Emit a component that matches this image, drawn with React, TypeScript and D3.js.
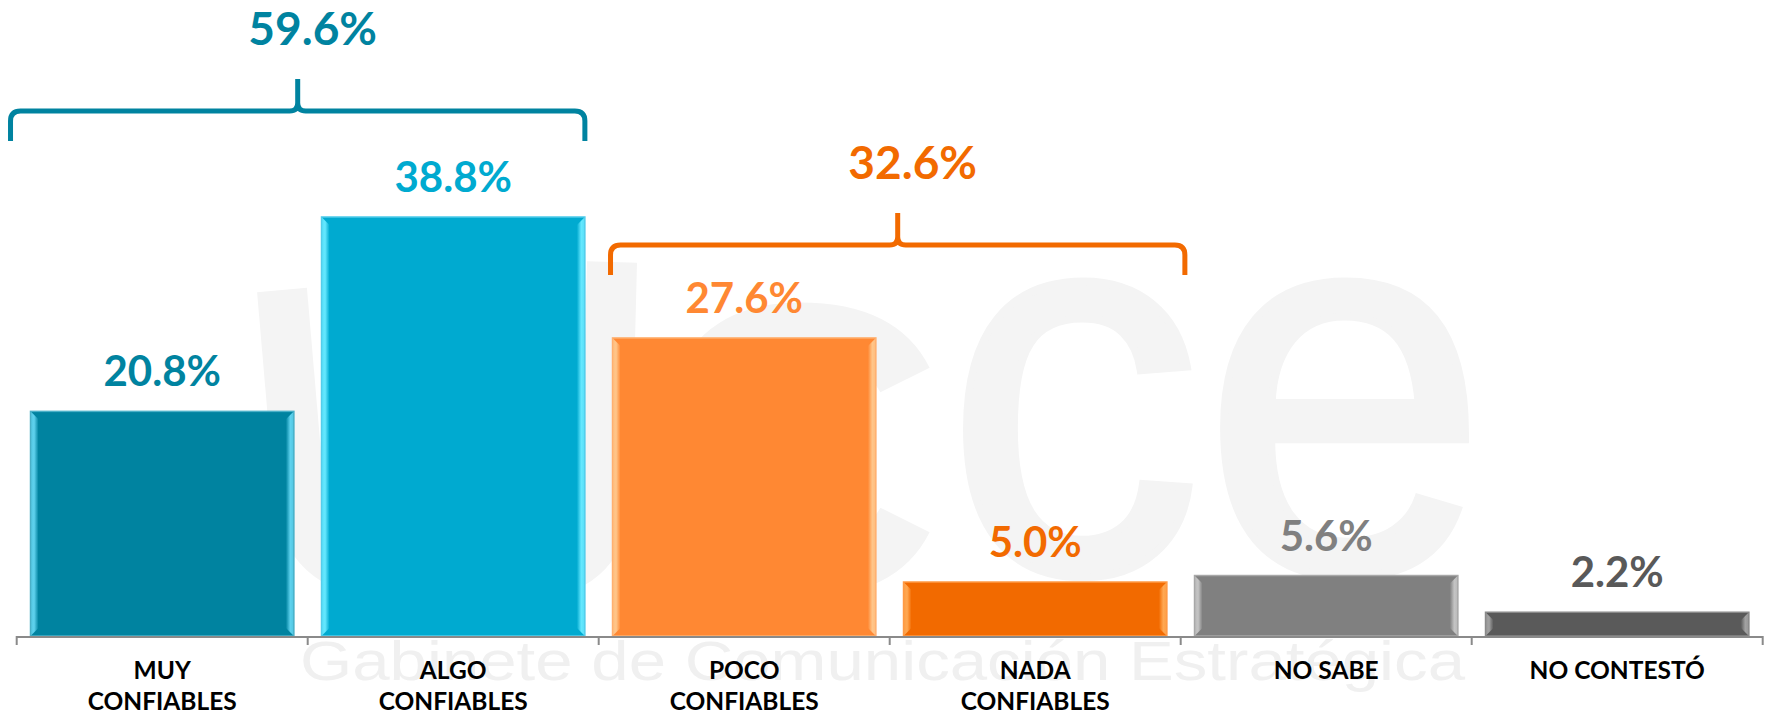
import React, { useEffect } from "react";
import * as d3 from "d3";

// ---------- data ----------
const categories = ["MUY CONFIABLES", "ALGO CONFIABLES", "POCO CONFIABLES", "NADA CONFIABLES", "NO SABE", "NO CONTESTÓ"];
const categoryLines = [["MUY", "CONFIABLES"], ["ALGO", "CONFIABLES"], ["POCO", "CONFIABLES"], ["NADA", "CONFIABLES"], ["NO SABE"], ["NO CONTESTÓ"]];
const values = [20.8, 38.8, 27.6, 5.0, 5.6, 2.2];
const valueLabels = ["20.8%", "38.8%", "27.6%", "5.0%", "5.6%", "2.2%"];
const groupFrom = [0, 2];
const groupTo = [1, 3];
const groupLabels = ["59.6%", "32.6%"];

// ---------- styles ----------
const barColors = ["#0083A0", "#00AAD0", "#FF8833", "#F26A00", "#808080", "#5A5A5A"];
const bevelColors = ["#5FD2EE", "#66E8FF", "#FFC68A", "#FFA852", "#C4C4C4", "#A2A2A2"];
const edgeColors = ["#4AB0C8", "#55CDEB", "#FFB070", "#FF9A45", "#A8A8A8", "#8A8A8A"];
const labelColors = ["#0083A0", "#00AAD0", "#FF8833", "#F26A00", "#808080", "#595959"];
const groupColors = ["#0083A0", "#F26A00"];
const braceShift = [-8, 10];
const braceRise = [106, 93];

const W = 1772;
const H = 716;
const FONT = "Lato, 'Open Sans', 'DejaVu Sans', sans-serif";
const WM = "#f4f4f4";

export default function App() {
  useEffect(() => {
    document.body.style.margin = "0";
  }, []);

  const x = d3
    .scaleBand<string>()
    .domain(categories)
    .range([16.7, 1762.7])
    .paddingInner(0.095)
    .paddingOuter(0.0475);
  const y = d3.scaleLinear().domain([0, 45]).range([636, 150]);
  const bw = x.bandwidth();
  const step = x.step();
  const r0 = x.range()[0];
  const boundaries = d3.range(categories.length + 1).map((i) => r0 + i * step);
  const b = 8;

  const bars = categories.map((c, i) => {
    const x0 = x(c) as number;
    const x1 = x0 + bw;
    const y0 = y(values[i]);
    const y1 = y(0);
    const bb = Math.min(b, (y1 - y0) / 2);
    return (
      <g key={c}>
        <rect x={x0} y={y0} width={bw} height={y1 - y0} fill={barColors[i]} />
        <polygon
          points={`${x0},${y0} ${x0 + b},${y0 + bb} ${x0 + b},${y1 - bb} ${x0},${y1}`}
          fill={`url(#bevL${i})`}
        />
        <polygon
          points={`${x1},${y0} ${x1 - b},${y0 + bb} ${x1 - b},${y1 - bb} ${x1},${y1}`}
          fill={`url(#bevR${i})`}
        />
        <rect x={x0} y={y0} width={bw} height={y1 - y0} fill="none" stroke={edgeColors[i]} strokeWidth={1.5} />
        <text
          x={x0 + bw / 2}
          y={y0 - 25}
          textAnchor="middle"
          fontFamily={FONT}
          fontWeight={700}
          fontSize={42}
          fill={labelColors[i]}
        >
          {valueLabels[i]}
        </text>
        {categoryLines[i].map((ln, j) => (
          <text
            key={j}
            x={x0 + bw / 2}
            y={679 + j * 31}
            textAnchor="middle"
            fontFamily={FONT}
            fontWeight={700}
            fontSize={24.5}
            fill="#000"
          >
            {ln}
          </text>
        ))}
      </g>
    );
  });

  const braces = groupFrom.map((f, k) => {
    const t = groupTo[k];
    const left = (x(categories[f]) as number) - 12 + braceShift[k];
    const right = (x(categories[t]) as number) + bw + 8 + braceShift[k];
    const top = d3.min(d3.range(f, t + 1).map((i) => y(values[i]))) as number;
    const yl = top - braceRise[k];
    const ye = yl + 30;
    const yp = yl - 32;
    const px = (left + right) / 2;
    const r = 10;
    const c = 8;
    const d = [
      `M${left},${ye}`,
      `L${left},${yl + r}`,
      `Q${left},${yl} ${left + r},${yl}`,
      `L${px - c},${yl}`,
      `Q${px},${yl} ${px},${yl - c}`,
      `L${px},${yp}`,
      `M${px},${yl - c}`,
      `Q${px},${yl} ${px + c},${yl}`,
      `L${right - r},${yl}`,
      `Q${right},${yl} ${right},${yl + r}`,
      `L${right},${ye}`,
    ].join(" ");
    return (
      <g key={k}>
        <path d={d} fill="none" stroke={groupColors[k]} strokeWidth={5} strokeLinejoin="round" />
        <text
          x={px + 15}
          y={yp - 34}
          textAnchor="middle"
          fontFamily={FONT}
          fontWeight={700}
          fontSize={46}
          fill={groupColors[k]}
        >
          {groupLabels[k]}
        </text>
      </g>
    );
  });

  return (
    <svg width={W} height={H} style={{ display: "block", position: "absolute", left: 0, top: 0 }}>
      <defs>
        {categories.map((c, i) => (
          <React.Fragment key={c}>
            <linearGradient id={`bevL${i}`} x1="0" x2="1" y1="0" y2="0">
              <stop offset="0" stopColor={bevelColors[i]} stopOpacity={0.85} />
              <stop offset="0.45" stopColor={bevelColors[i]} stopOpacity={1} />
              <stop offset="1" stopColor={barColors[i]} stopOpacity={1} />
            </linearGradient>
            <linearGradient id={`bevR${i}`} x1="1" x2="0" y1="0" y2="0">
              <stop offset="0" stopColor={bevelColors[i]} stopOpacity={0.85} />
              <stop offset="0.45" stopColor={bevelColors[i]} stopOpacity={1} />
              <stop offset="1" stopColor={barColors[i]} stopOpacity={1} />
            </linearGradient>
          </React.Fragment>
        ))}
        <clipPath id="wmclip">
          <rect x={0} y={0} width={W} height={632} />
        </clipPath>
      </defs>
      <rect width={W} height={H} fill="#fff" />
      {/* watermark */}
      <g clipPath="url(#wmclip)">
        <path
          d="M282,290 L300,500 Q308,575 400,575 L520,575 Q602,575 606,500 L612,262"
          fill="none"
          stroke={WM}
          strokeWidth={50}
        />
        <path
          d="M905,380 Q880,330 800,330 Q690,330 690,450 Q690,570 800,570 Q880,570 905,520"
          fill="none"
          stroke={WM}
          strokeWidth={55}
        />
        <text
          x={945}
          y={572}
          fontFamily="'Liberation Sans', Arial, sans-serif"
          fontSize={540}
          fill={WM}
          stroke={WM}
          strokeWidth={8}
          textLength={543}
          lengthAdjust="spacingAndGlyphs"
        >
          ce
        </text>
      </g>
      <text
        x={300}
        y={680}
        fontFamily="'Liberation Sans', Arial, sans-serif"
        fontSize={56}
        fill="#f0f0f0"
        textLength={1165}
        lengthAdjust="spacingAndGlyphs"
      >
        Gabinete de  Comunicación  Estratégica
      </text>
      {bars}
      {/* axis */}
      <line x1={boundaries[0]} x2={boundaries[boundaries.length - 1]} y1={y(0) + 1} y2={y(0) + 1} stroke="#8a8a8a" strokeWidth={2} />
      {boundaries.map((bx, i) => (
        <line key={i} x1={bx} x2={bx} y1={y(0)} y2={y(0) + 9} stroke="#8a8a8a" strokeWidth={2} />
      ))}
      {braces}
    </svg>
  );
}
